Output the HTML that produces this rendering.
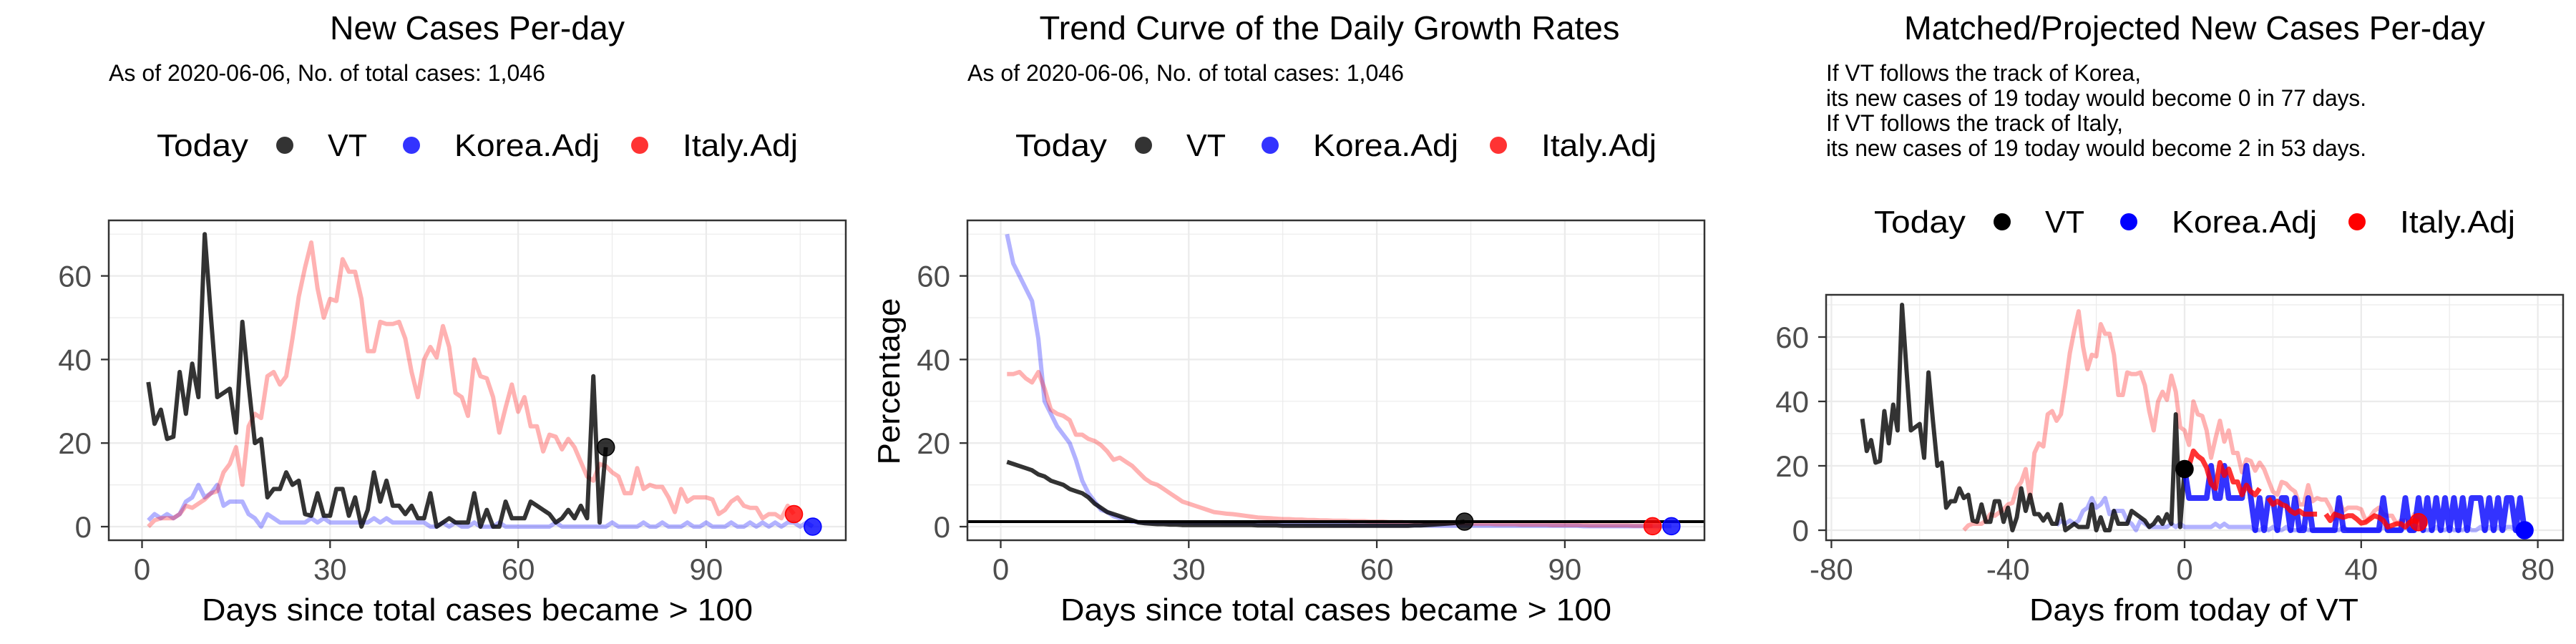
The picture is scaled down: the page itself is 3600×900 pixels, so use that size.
<!DOCTYPE html>
<html><head><meta charset="utf-8"><style>
html,body{margin:0;padding:0;background:#fff;}
svg{display:block;}
text{font-family:"Liberation Sans",Arial,sans-serif;}
</style></head><body>
<svg id="chart" width="3600" height="900" viewBox="0 0 3600 900" xmlns="http://www.w3.org/2000/svg"></svg>
<script>
// ---- data ----
const vtDaily = [34.6,24.6,28,21,21.5,37,27,39,31,70,50,31,32,33,22.5,49,34,20,21,7,9,9,13,10,11,3,2.6,8,2.6,2.6,9,9,2.6,7,0,4,13,6,11,5,5,3,5,2,2,8,0,1,2,1,1,1,8,0,4,0,0,6,2,2,2,6,5,4,3,1,2,4,2,5,2,36,1,19];
const italyDaily = [0,1.5,2,2,2,3,5,4.5,5.5,6.5,8,8.5,13,15,19,10,24,27,26,36,37,34,36,45,55,62,68,57,50,54.5,54,64,61,61,54.5,42,42,49,48.5,48.5,49,45,37,31,40,43,40.5,48,43,32,31,26.5,40,36,35.5,31,22.5,28.5,34,27.5,31,24,24,18,22,21.5,18.5,21,19,15.5,12,11,15,14.5,13,12,8,8,14,9,10,9.5,9.5,7,3.5,9,6,7,7,7,6.5,3,4,6,7,5,4.5,4.5,2,3,3,2,5,3];
const koreaDaily = [1.5,3,2,3,2,3,6,7,10,7,8,10,5,6,6,6,3,2,0,3,2,
  1,1,1,1,1,2,1,2,1,1,1,1,1,1,1,2,1,2,1,1,1,1,1,
  1,0,0,1,0,1,0,0,1,0,0,0,1,0,0,0,0,0,0,0,0,1,0,0,0,0,0,0,0,0,1,0,0,0,0,1,0,0,1,0,0,0,1,0,0,1,0,0,0,1,0,0,1,0,1,0,1,0,1,1,0,1,0];
const vtGrowth = [15.5,15,14.5,14,13.5,12.5,12,11,10.5,10,9,8.5,8,7,5.5,4.5,3.5,3,2.5,2,1.5,1,0.8,0.7,0.6,0.6,0.5,0.5,0.4,0.4,0.4,0.4,0.4,0.4,0.4,0.4,0.4,0.4,0.4,0.4,0.3,0.3,0.3,0.3,0.2,0.2,0.2,0.2,0.2,0.2,0.2,0.2,0.2,0.2,0.2,0.2,0.2,0.2,0.2,0.2,0.2,0.2,0.2,0.2,0.2,0.3,0.3,0.4,0.5,0.6,0.7,0.8,1,1.2];
const koreaGrowth = [70,63,60,57,54,45,30,27,24,22,20,16,11,8,6,4,3.5,2.5,2,1.5,1.2,1.1,1,1,1,1,1,1,1,1,
  0.9,0.9,0.9,0.9,0.9,0.8,0.8,0.8,0.8,0.8,0.7,0.7,0.7,0.7,0.6,0.6,0.6,0.6,0.5,0.5,0.5,0.5,0.4,0.4,0.4,0.4,0.3,0.3,0.3,0.3,
  0.3,0.3,0.3,0.3,0.3,0.3,0.3,0.3,0.2,0.2,0.2,0.2,0.2,0.2,0.2,0.2,0.2,0.2,0.2,0.2,0.2,0.2,0.2,0.2,0.2,0.2,0.2,0.2,0.2,0.2,
  0.2,0.2,0.1,0.1,0.1,0.1,0.1,0.1,0.1,0.1,0.1,0.1,0.1,0.1,0.1,0.1,0.1];
const italyGrowth = [36.5,36.5,37,35.5,34.5,37,33,28,27,26.5,25.5,22,22,21,20.5,19.5,18,16,16.5,15.5,14.5,13,11.5,10.5,10,9,8,7,6,5.5,5,4.5,4,3.5,3.3,3.1,3,2.8,2.6,2.4,2.2,2.1,2,1.9,1.8,1.8,1.7,1.7,1.6,1.6,1.5,1.5,1.4,1.4,1.4,1.3,1.3,1.3,1.2,1.2,1.2,1.1,1.1,1.1,1,1,1,0.9,0.9,0.9,0.8,0.8,0.8,0.8,0.7,0.7,0.7,0.7,0.6,0.6,0.6,0.6,0.5,0.5,0.5,0.5,0.5,0.4,0.4,0.4,0.4,0.4,0.4,0.3,0.3,0.3,0.3,0.3,0.3,0.3,0.2,0.2,0.2,0.2];
const koreaProj = [19,10,10,10,10,10,20,10,10,20,10,10,10,10,20,10,0,10,0,10,10,0,10,10,0,10,0,0,10,0,0,0,0,0,0,10,0,0,0,0,0,0,0,0,0,10,0,0,0,0,10,0,0,10,0,10,0,10,0,10,0,10,0,10,0,10,10,10,0,10,0,10,0,10,10,0,10,0];
const italyProj = [17,20,24.6,23,22,19.4,14.5,13,21,17,19,15,15,11,14,12,11,13,null,10,8,9,8,7.5,6,5.2,6,5,5,5,5,null,5,3,5,4.5,4,4.5,4.5,3.5,2.2,2.5,3.5,4.5,4,3,1,1.5,2,2,1,2.5,3,2.5];
const yTicks = [0,20,40,60];
const xTicks12 = [0,30,60,90];
const xTicks3 = [-80,-40,0,40,80];
const vtShift = 74, koreaShift = 30, italyShift = 51;

const NS = "http://www.w3.org/2000/svg";
const svg = document.getElementById('chart');
function mk(tag, attrs, parent){ const e=document.createElementNS(NS,tag); for(const k in attrs) e.setAttribute(k,attrs[k]); (parent||svg).appendChild(e); return e; }
function txt(s, attrs){ const e=mk('text',attrs); e.textContent=s; return e; }

function panel(p){
  const g = mk('g',{});
  
  
  const X = v => p.x0 + v*p.xs, Y = v => p.y0 - v*p.ys;
  const gl = mk('g',{},g);
  
  
  for(let i=0;i<p.xTicks.length;i++){
    const v=p.xTicks[i]; const m=v+p.xStep/2;
    mk('line',{x1:X(v),x2:X(v),y1:p.top,y2:p.bottom,stroke:'#ebebeb','stroke-width':2.3},gl);
    if(X(m)<p.right) mk('line',{x1:X(m),x2:X(m),y1:p.top,y2:p.bottom,stroke:'#ebebeb','stroke-width':1.2},gl);
    if(i===0 && X(v-p.xStep/2)>p.left) mk('line',{x1:X(v-p.xStep/2),x2:X(v-p.xStep/2),y1:p.top,y2:p.bottom,stroke:'#ebebeb','stroke-width':1.2},gl);
  }
  for(const v of yTicks){
    mk('line',{x1:p.left,x2:p.right,y1:Y(v),y2:Y(v),stroke:'#ebebeb','stroke-width':2.3},gl);
    mk('line',{x1:p.left,x2:p.right,y1:Y(v+10),y2:Y(v+10),stroke:'#ebebeb','stroke-width':1.2},gl);
  }
  for(const s of p.series){
    const segs=[]; let cur=[];
    s.data.forEach((v,i)=>{ if(v===null){ if(cur.length) segs.push(cur); cur=[]; } else cur.push(X(i+s.start).toFixed(1)+','+Y(v).toFixed(1)); });
    if(cur.length) segs.push(cur);
    for(let k=0;k<segs.length;k++){
      const pl = mk('polyline',{fill:'none',stroke:s.color,'stroke-width':s.w,'stroke-linejoin':'round','stroke-opacity':s.op,points:segs[k].join(' ')},g);
      
      
    }
  }
  if(p.hline!==undefined){
    const h = mk('line',{x1:p.left,x2:p.right,y1:Y(p.hline),y2:Y(p.hline),stroke:'#000','stroke-width':4},g);
    
    
  }
  for(const m of p.markers){
    const c = mk('circle',{cx:X(m.x),cy:Y(m.y),r:12,fill:m.color,'fill-opacity':m.op,stroke:m.color,'stroke-opacity':1,'stroke-width':1.5},g);
    
    
  }
  const b = mk('rect',{x:p.left,y:p.top,width:p.right-p.left,height:p.bottom-p.top,fill:'none',stroke:'#333','stroke-width':2.5},g);
  
  
  for(const v of yTicks){
    mk('line',{x1:p.left-11,x2:p.left,y1:Y(v),y2:Y(v),stroke:'#333','stroke-width':2.3},g);
    const t = txt(String(v),{x:p.left-24,y:Y(v)+15,'text-anchor':'end','font-size':42,fill:'#4d4d4d'});
    
    
  }
  for(const v of p.xTicks){
    mk('line',{x1:X(v),x2:X(v),y1:p.bottom,y2:p.bottom+11,stroke:'#333','stroke-width':2.3},g);
    const t = txt(String(v),{x:X(v),y:p.bottom+55,'text-anchor':'middle','font-size':42,fill:'#4d4d4d'});
    
    
  }
  const xt = txt(p.xTitle,{x:p.xtc,y:867,'text-anchor':'middle','font-size':44,fill:'#000',textLength:p.xtw,lengthAdjust:'spacingAndGlyphs'});
  
  
}

function legend(ox, by, colors, ops){
  const g = mk('g',{});
  
  
  const t0 = txt('Today',{x:ox+219,y:by,'font-size':44,textLength:128,lengthAdjust:'spacingAndGlyphs'});
  g.appendChild(t0);
  
  
  const items=[['VT',398,458,55],['Korea.Adj',575,635,203],['Italy.Adj',894,954,161]];
  items.forEach((it,i)=>{
    const c = mk('circle',{cx:ox+it[1],cy:by-15,r:12,fill:colors[i],'fill-opacity':ops[i]},g);
    
    
    const t = txt(it[0],{x:ox+it[2],y:by,'font-size':44,textLength:it[3],lengthAdjust:'spacingAndGlyphs'});
    g.appendChild(t);
    
    
  });
}

let t;
t = txt('New Cases Per-day',{x:667,y:55,'text-anchor':'middle','font-size':46,textLength:412,lengthAdjust:'spacingAndGlyphs'});


t = txt('As of 2020-06-06, No. of total cases: 1,046',{x:152,y:113,'font-size':32,textLength:610,lengthAdjust:'spacingAndGlyphs'});


t = txt('Trend Curve of the Daily Growth Rates',{x:1858,y:55,'text-anchor':'middle','font-size':46,textLength:811,lengthAdjust:'spacingAndGlyphs'});


t = txt('As of 2020-06-06, No. of total cases: 1,046',{x:1352,y:113,'font-size':32,textLength:610,lengthAdjust:'spacingAndGlyphs'});


t = txt('Matched/Projected New Cases Per-day',{x:3067,y:55,'text-anchor':'middle','font-size':46,textLength:812,lengthAdjust:'spacingAndGlyphs'});


const sub3 = [['If VT follows the track of Korea,',440,113],['its new cases of 19 today would become 0 in 77 days.',755,148],['If VT follows the track of Italy,',415,183],['its new cases of 19 today would become 2 in 53 days.',755,218]];
for(const s of sub3){
  t = txt(s[0],{x:2552,y:s[2],'font-size':32,textLength:s[1],lengthAdjust:'spacingAndGlyphs'});
  
  
}
t = txt('Percentage',{x:0,y:0,'text-anchor':'middle','font-size':44,transform:'translate(1257,533) rotate(-90)',textLength:233,lengthAdjust:'spacingAndGlyphs'});



legend(0,218,['#000','#00f','#f00'],[0.8,0.8,0.8]);
legend(1200,218,['#000','#00f','#f00'],[0.8,0.8,0.8]);
legend(2400,325,['#000','#00f','#f00'],[1,1,1]);

const faint=0.3;
panel({name:'panel-new-cases',x0:198.5,xs:8.76,y0:736,ys:5.84,left:152,right:1182,top:308,bottom:755,xTicks:xTicks12,xStep:30,
  xTitle:'Days since total cases became > 100',xtc:667,xtw:770,
  series:[
    {name:'korea-adj-line',data:koreaDaily,start:1,color:'#00f',op:faint,w:6},
    {name:'italy-adj-line',data:italyDaily,start:1,color:'#f00',op:faint,w:6},
    {name:'vt-line',data:vtDaily,start:1,color:'#000',op:0.8,w:6}],
  markers:[
    {name:'vt-today-marker',x:vtDaily.length,y:vtDaily[vtDaily.length-1],color:'#000',op:0.8},
    {name:'italy-today-marker',x:italyDaily.length,y:italyDaily[italyDaily.length-1],color:'#f00',op:0.8},
    {name:'korea-today-marker',x:koreaDaily.length,y:koreaDaily[koreaDaily.length-1],color:'#00f',op:0.8}]});

panel({name:'panel-growth-rates',x0:1398.5,xs:8.76,y0:736,ys:5.84,left:1352,right:2382,top:308,bottom:755,xTicks:xTicks12,xStep:30,
  xTitle:'Days since total cases became > 100',xtc:1867,xtw:770,hline:1.2,
  series:[
    {name:'korea-adj-growth-line',data:koreaGrowth,start:1,color:'#00f',op:faint,w:6},
    {name:'italy-adj-growth-line',data:italyGrowth,start:1,color:'#f00',op:faint,w:6},
    {name:'vt-growth-line',data:vtGrowth,start:1,color:'#000',op:0.8,w:6}],
  markers:[
    {name:'vt-today-marker',x:vtGrowth.length,y:vtGrowth[vtGrowth.length-1],color:'#000',op:0.8},
    {name:'italy-today-marker',x:italyGrowth.length,y:0.1,color:'#f00',op:0.8},
    {name:'korea-today-marker',x:koreaGrowth.length,y:0.1,color:'#00f',op:0.8}]});

panel({name:'panel-projected',x0:3053,xs:6.17,y0:741,ys:4.5,left:2552,right:3582,top:412,bottom:755,xTicks:xTicks3,xStep:40,
  xTitle:'Days from today of VT',xtc:3066,xtw:460,
  series:[
    {name:'korea-adj-matched-line',data:koreaDaily,start:1-koreaShift,color:'#00f',op:faint,w:6},
    {name:'italy-adj-matched-line',data:italyDaily,start:1-italyShift,color:'#f00',op:faint,w:6},
    {name:'vt-line',data:vtDaily,start:1-vtShift,color:'#000',op:0.8,w:6},
    {name:'korea-adj-projection-line',data:koreaProj,start:0,color:'#00f',op:0.8,w:8},
    {name:'italy-adj-projection-line',data:italyProj,start:0,color:'#f00',op:0.8,w:7}],
  markers:[
    {name:'vt-today-marker',x:0,y:vtDaily[vtDaily.length-1],color:'#000',op:1},
    {name:'italy-end-marker',x:italyProj.length-1,y:italyProj[italyProj.length-1],color:'#f00',op:0.8},
    {name:'korea-end-marker',x:koreaProj.length-1,y:koreaProj[koreaProj.length-1],color:'#00f',op:1}]});
</script>
</body></html>
